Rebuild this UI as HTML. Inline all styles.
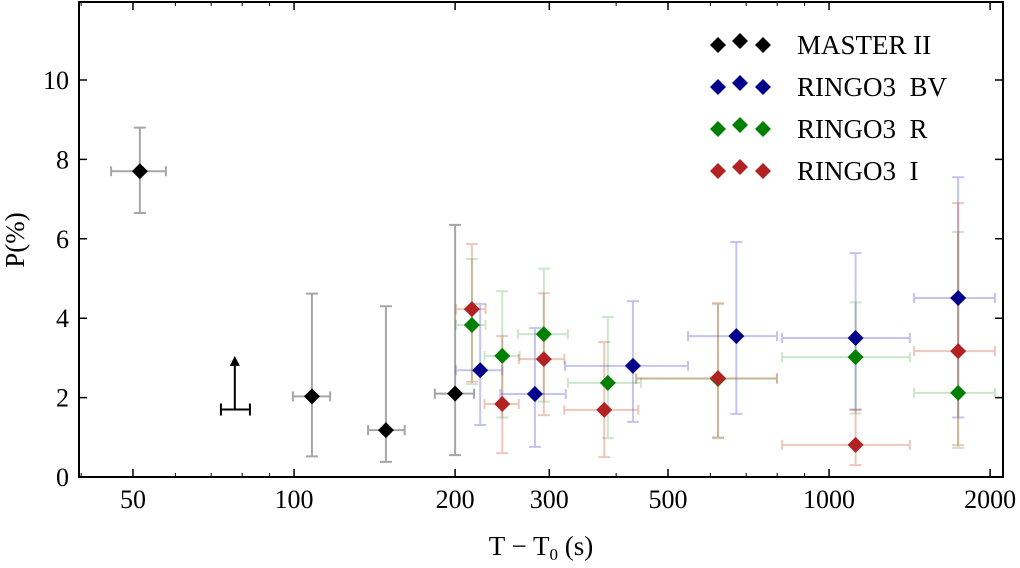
<!DOCTYPE html>
<html><head><meta charset="utf-8"><style>
html,body{margin:0;padding:0;background:#fff;}
svg text{font-family:"Liberation Serif",serif;fill:#000;white-space:pre;}
</style></head><body>
<svg id="chart" width="1020" height="563" viewBox="0 0 1020 563" xmlns="http://www.w3.org/2000/svg">
<g id="errs"></g>
<g id="marks"></g>
<rect x="79" y="2" width="924" height="475" fill="none" stroke="#000" stroke-width="2"/>
<g id="axes"></g>
<text x="0" y="0" font-size="27" text-anchor="middle" transform="translate(24,240) rotate(-90)">P(%)</text>
<text x="541" y="555" font-size="27" text-anchor="middle">T − T<tspan font-size="17" dy="5">0</tspan><tspan dy="-5"> (s)</tspan></text>
<g id="legend"></g>
</svg>
<script>
// ---- data ----
const seriesNames = ["MASTER II","RINGO3  BV","RINGO3  R","RINGO3  I"];
const seriesColors = ["#000000","#00008b","#008000","#b22222"];
const errColors = ["rgba(0,0,0,0.35)","rgba(60,60,200,0.3)","rgba(0,128,0,0.2)","rgba(200,70,30,0.3)"];
const masterX = [51.5,108,148.5,200];
const masterY = [7.7,2.03,1.18,2.1];
const masterYlo = [6.65,0.52,0.38,0.55];
const masterYhi = [8.8,4.62,4.3,6.35];
const masterXlo = [45.5,99.5,137.5,183.3];
const masterXhi = [57.6,116.8,161,217];
const limitX = [77.5]; const limitY = [1.7]; const limitTop=[3.0]; const limitXlo=[73]; const limitXhi=[82.7];
const bvX = [222.8,282,430,671,1121,1743];
const bvY = [2.69,2.09,2.8,3.55,3.5,4.51];
const bvYlo = [1.31,0.76,1.39,1.59,1.69,1.5];
const bvYhi = [4.36,3.75,4.43,5.92,5.64,7.55];
const bvXlo = [200.8,243,321,545,817,1442];
const bvXhi = [245,322,545,799,1416,2042];
const rX = [215,245,293,386,620,1121,1743];
const rY = [3.83,3.05,3.6,2.37,2.47,3.02,2.12];
const rYlo = [2.34,1.5,1.9,0.98,1.0,1.6,0.73];
const rYhi = [5.49,4.68,5.25,4.03,4.35,4.4,6.17];
const rXlo = [200.8,227,262,325,436,817,1442];
const rXhi = [228,264,325,445,799,1416,2042];
const iX = [215,245,293,380,620,1121,1743];
const iY = [4.23,1.84,2.97,1.69,2.49,0.81,3.17];
const iYlo = [2.4,0.6,1.56,0.5,0.98,0.3,0.8];
const iYhi = [5.87,3.55,4.63,3.4,4.38,1.7,6.9];
const iXlo = [200.8,227,263,320,436,817,1442];
const iXhi = [228,263,320,440,799,1416,2042];
const xTicks = [50,100,200,300,500,1000,2000];
const xMinor = [40,60,70,80,90,400,600,700,800,900];
const yTicks = [0,2,4,6,8,10];
// ---- scales ----
const X0=79,X1=1003,Y0=477,Y1=2;
function sx(v){return 133+535*Math.log10(v/50);}
function sy(v){return 477-39.7*v;}
const NS="http://www.w3.org/2000/svg";
function mk(parent,tag,attrs){const e=document.createElementNS(NS,tag);for(const k in attrs)e.setAttribute(k,attrs[k]);parent.appendChild(e);return e;}
const errs=document.getElementById('errs'),marks=document.getElementById('marks'),axes=document.getElementById('axes'),legend=document.getElementById('legend');
function diamond(cx,cy,r){return `M${cx},${cy-r}L${cx+r},${cy}L${cx},${cy+r}L${cx-r},${cy}Z`;}
function series(X,Y,Ylo,Yhi,Xlo,Xhi,ci){
  for(let i=0;i<X.length;i++){
    const x=sx(X[i]),y=sy(Y[i]),c=errColors[ci];
    const d=`M${x},${sy(Ylo[i])}V${sy(Yhi[i])}M${x-6},${sy(Ylo[i])}h12M${x-6},${sy(Yhi[i])}h12M${sx(Xlo[i])},${y}H${sx(Xhi[i])}M${sx(Xlo[i])},${y-5}v10M${sx(Xhi[i])},${y-5}v10`;
    const e=mk(errs,'path',{d:d,stroke:c,'stroke-width':2,fill:'none'});
    
    
    const m=mk(marks,'path',{d:diamond(x,y,8),fill:seriesColors[ci]});
    
    
  }
}
series(masterX,masterY,masterYlo,masterYhi,masterXlo,masterXhi,0);
series(bvX,bvY,bvYlo,bvYhi,bvXlo,bvXhi,1);
series(rX,rY,rYlo,rYhi,rXlo,rXhi,2);
series(iX,iY,iYlo,iYhi,iXlo,iXhi,3);
for(let i=0;i<limitX.length;i++){
  const x=sx(limitX[i]),y=sy(limitY[i]),t=sy(limitTop[i]);
  const l=mk(marks,'path',{d:`M${sx(limitXlo[i])},${y}H${sx(limitXhi[i])}M${sx(limitXlo[i])},${y-6}v12M${sx(limitXhi[i])},${y-6}v12M${x},${y}V${t+6}`,stroke:'#000','stroke-width':2,fill:'none'});
  
  
  const a=mk(marks,'path',{d:`M${x-5},${t+8}L${x},${t-2}L${x+5},${t+8}Z`,fill:'#000'});
  
  
}
yTicks.forEach(v=>{
  const y=sy(v);
  const t=mk(axes,'path',{d:`M${X0},${y}h8M${X1},${y}h-8`,stroke:'#000','stroke-width':1.5});
  
  
  const l=mk(axes,'text',{x:X0-10,y:y+9,'font-size':26,'text-anchor':'end'});l.textContent=v;
  
  
});
xTicks.forEach(v=>{
  const x=sx(v);
  const t=mk(axes,'path',{d:`M${x},${Y0}v-8M${x},${Y1}v8`,stroke:'#000','stroke-width':1.5});
  
  
  const l=mk(axes,'text',{x:x,y:508,'font-size':26,'text-anchor':'middle'});l.textContent=v;
  
  
});
xMinor.forEach(v=>{
  const x=sx(v); if(x<X0)return;
  const t=mk(axes,'path',{d:`M${x},${Y0}v-4M${x},${Y1}v4`,stroke:'#000','stroke-width':1});
  
  
});
seriesNames.forEach((n,i)=>{
  const y=45+i*42;
  [[718,y],[740,y-4],[763,y]].forEach(p=>{
    const d=mk(legend,'path',{d:diamond(p[0],p[1],8),fill:seriesColors[i]});
    
    
  });
  const t=mk(legend,'text',{x:797,y:y+9,'font-size':27});t.textContent=n;
  
  
});
</script>
</body></html>
